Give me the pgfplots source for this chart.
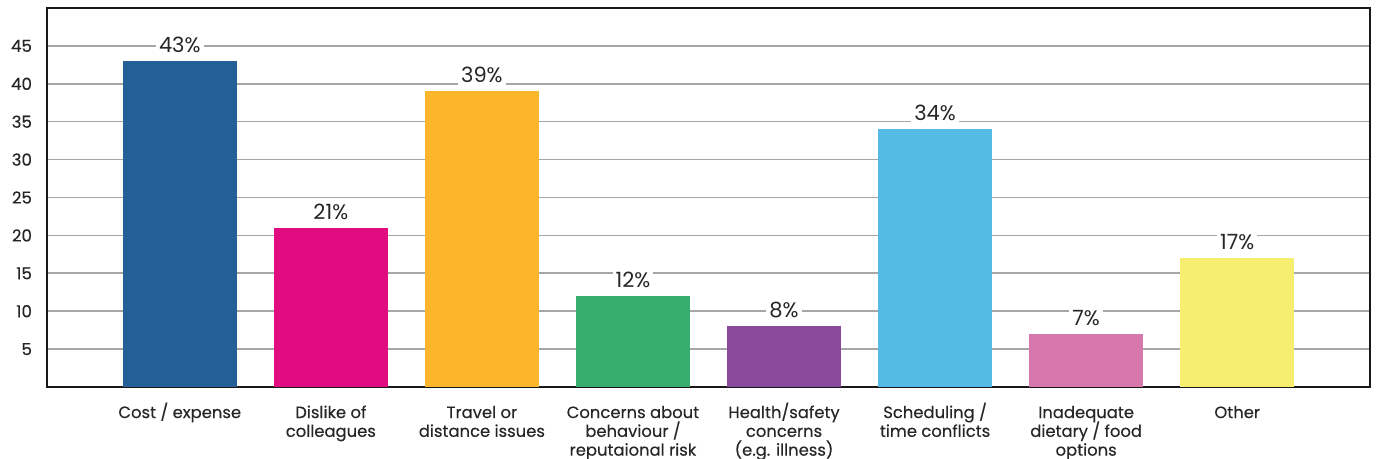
\documentclass[border=0pt]{standalone}
\usepackage{fontspec}
\setmainfont{Poppins}
\newfontfamily\medfont[FakeBold=0.3]{Poppins}
\usepackage{pgfplots}
\pgfplotsset{compat=1.18}
\definecolor{c1}{HTML}{246096}
\definecolor{c2}{HTML}{E00C80}
\definecolor{c3}{HTML}{FBB62B}
\definecolor{c4}{HTML}{37AE6E}
\definecolor{c5}{HTML}{8A4A9C}
\definecolor{c6}{HTML}{54BBE4}
\definecolor{c7}{HTML}{D678AE}
\definecolor{c8}{HTML}{F5EE6E}
\definecolor{gridc}{HTML}{A6A6A6}
\newcommand{\fs}{\rule{0pt}{9pt}}
\newcommand{\xtfont}{\medfont\fontsize{8.2}{9.4}\selectfont\lineskiplimit=-20pt\relax\lineskip=0pt\relax}
\begin{document}
\begin{tikzpicture}
\begin{axis}[
  scale only axis,
  width=661.5pt, height=189.5pt,
  xmin=-0.879, xmax=7.879,
  ymin=0, ymax=50,
  ytick={5,10,15,20,25,30,35,40,45},
  xtick={0,1,2,3,4,5,6,7},
  xticklabels={{\fs Cost / expense},{\fs Dislike of\\colleagues},{\fs Travel or\\distance issues},{\fs Concerns about\\behaviour /\\reputaional risk},{\fs Health/safety\\concerns\\(e.g. illness)},{\fs Scheduling /\\time conflicts},{\fs Inadequate\\dietary / food\\options},{\fs Other}},
  xticklabel style={align=center, font=\xtfont, anchor=north, yshift=-3pt, text=black!85},
  yticklabel style={font=\medfont\fontsize{8.3}{9.5}\selectfont, xshift=-4pt, text=black!85},
  /pgf/number format/assume math mode=true,
  major tick length=0pt,
  ymajorgrids,
  grid style={gridc, line width=0.8pt},
  axis line style={black!90, line width=1.3pt},
  axis on top=false,
  ybar, bar width=57pt, bar shift=0pt,
  nodes near coords={\pgfmathprintnumber{\pgfplotspointmeta}\%},
  nodes near coords style={font=\fontsize{10.5}{12}\selectfont, fill=white, inner xsep=1.5pt, inner ysep=1pt, anchor=south, yshift=3pt, text=black!85},
]
\addplot[fill=c1, draw=none] coordinates {(0,43)};
\addplot[fill=c2, draw=none] coordinates {(1,21)};
\addplot[fill=c3, draw=none] coordinates {(2,39)};
\addplot[fill=c4, draw=none] coordinates {(3,12)};
\addplot[fill=c5, draw=none] coordinates {(4,8)};
\addplot[fill=c6, draw=none] coordinates {(5,34)};
\addplot[fill=c7, draw=none] coordinates {(6,7)};
\addplot[fill=c8, draw=none] coordinates {(7,17)};
\end{axis}
\pgfresetboundingbox
\useasboundingbox (-23.5pt,-36pt) rectangle (664.5pt,193.5pt);
\end{tikzpicture}
\end{document}
